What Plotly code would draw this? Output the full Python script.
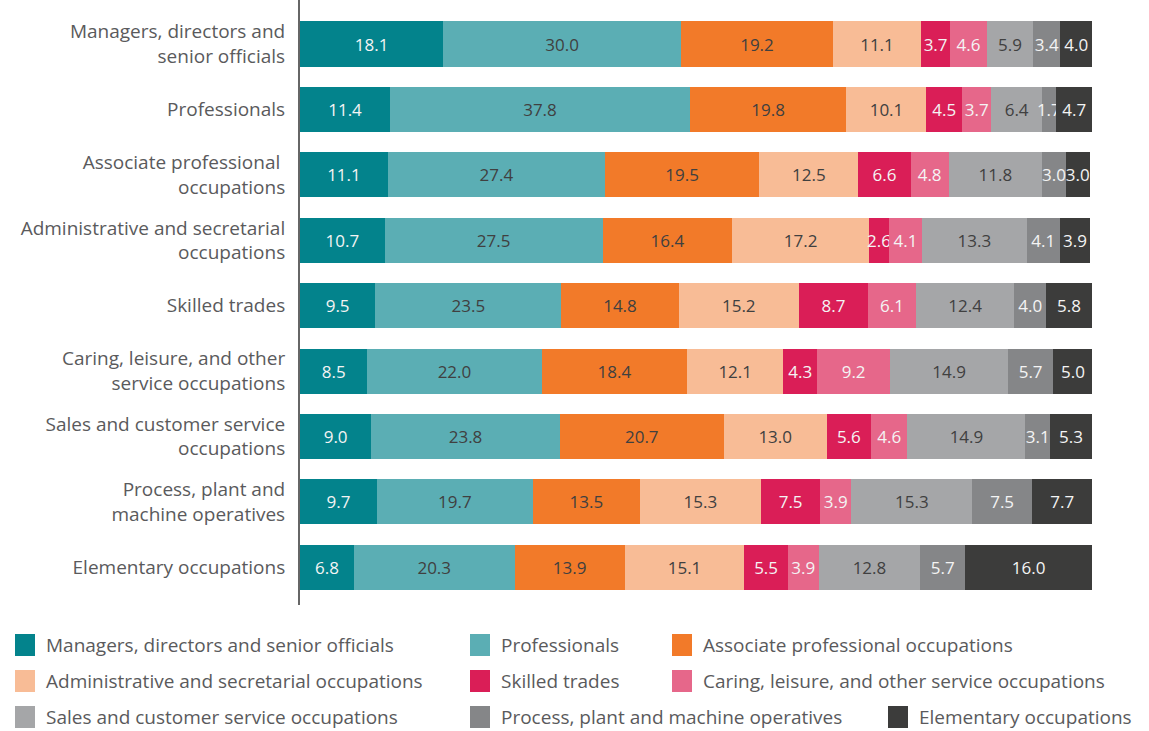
import plotly.graph_objects as go

categories = [
    "Managers, directors and senior officials",
    "Professionals",
    "Associate professional occupations",
    "Administrative and secretarial occupations",
    "Skilled trades",
    "Caring, leisure, and other service occupations",
    "Sales and customer service occupations",
    "Process, plant and machine operatives",
    "Elementary occupations",
]
category_ticktext = [
    "Managers, directors and<br>senior officials",
    "Professionals",
    "Associate professional <br>occupations",
    "Administrative and secretarial<br>occupations",
    "Skilled trades",
    "Caring, leisure, and other<br>service occupations",
    "Sales and customer service<br>occupations",
    "Process, plant and<br>machine operatives",
    "Elementary occupations",
]
series_names = categories[:]

managers = [18.1, 11.4, 11.1, 10.7, 9.5, 8.5, 9.0, 9.7, 6.8]
professionals = [30.0, 37.8, 27.4, 27.5, 23.5, 22.0, 23.8, 19.7, 20.3]
associate = [19.2, 19.8, 19.5, 16.4, 14.8, 18.4, 20.7, 13.5, 13.9]
administrative = [11.1, 10.1, 12.5, 17.2, 15.2, 12.1, 13.0, 15.3, 15.1]
skilled = [3.7, 4.5, 6.6, 2.6, 8.7, 4.3, 5.6, 7.5, 5.5]
caring = [4.6, 3.7, 4.8, 4.1, 6.1, 9.2, 4.6, 3.9, 3.9]
sales = [5.9, 6.4, 11.8, 13.3, 12.4, 14.9, 14.9, 15.3, 12.8]
process = [3.4, 1.7, 3.0, 4.1, 4.0, 5.7, 3.1, 7.5, 5.7]
elementary = [4.0, 4.7, 3.0, 3.9, 5.8, 5.0, 5.3, 7.7, 16.0]

series_values = [managers, professionals, associate, administrative, skilled,
                 caring, sales, process, elementary]
colors = ["#03838C", "#5BAEB4", "#F27A29", "#F8BC96", "#DA1E57",
          "#E6678A", "#A5A6A8", "#858688", "#3C3C3B"]
text_colors = ["#F4F4F4", "#404040", "#404040", "#404040", "#F4F4F4",
               "#F4F4F4", "#404040", "#F4F4F4", "#F4F4F4"]

FONT = "Open Sans"
GRAY = "#5A5A5C"

W, H = 1149, 731
L, R, T, B = 300, 57, 0, 126
PW, PH = W - L - R, H - T - B

fig = go.Figure()
for name, vals, col, tcol in zip(series_names, series_values, colors, text_colors):
    fig.add_trace(go.Bar(
        y=list(range(len(categories))), x=vals, name=name, orientation="h",
        marker=dict(color=col, line=dict(width=0)),
        text=[f"{v:.1f}" for v in vals], textposition="inside",
        insidetextanchor="middle", textangle=0, constraintext="none",
        textfont=dict(color=tcol, size=17, family=FONT),
        showlegend=False, hoverinfo="x+name",
    ))

def px_x(px):
    return (px - L) / PW

def px_y(py):
    return (T + PH - py) / PH

# manual legend laid out like the reference (3 rows)
legend_pos = [(15, 645), (470, 645), (672, 645),
              (15, 681), (470, 681), (672, 681),
              (15, 717), (470, 717), (888, 717)]
shapes = []
annotations = []
for (lx, ly), name, col in zip(legend_pos, series_names, colors):
    shapes.append(dict(type="rect", xref="paper", yref="paper",
                       x0=px_x(lx), x1=px_x(lx + 20), y0=px_y(ly + 11), y1=px_y(ly - 11),
                       fillcolor=col, line=dict(width=0)))
    annotations.append(dict(xref="paper", yref="paper", x=px_x(lx + 29), y=px_y(ly),
                            text=name, showarrow=False, xanchor="left", yanchor="middle",
                            font=dict(family=FONT, size=19, color=GRAY)))

fig.update_layout(
    width=W, height=H,
    margin=dict(l=L, r=R, t=T, b=B),
    barmode="stack", bargap=0.31,
    plot_bgcolor="white", paper_bgcolor="white",
    font=dict(family=FONT, color=GRAY),
    uniformtext=dict(minsize=17, mode="show"),
    shapes=shapes, annotations=annotations,
    xaxis=dict(range=[0, 100], showgrid=False, zeroline=False, showticklabels=False,
               showline=False, fixedrange=True),
    yaxis=dict(range=[8.576, -0.673], tickmode="array",
               tickvals=list(range(len(categories))), ticktext=category_ticktext,
               showgrid=False, zeroline=False, showline=True, linecolor="#666666",
               linewidth=2, ticks="outside", ticklen=9, tickcolor="rgba(0,0,0,0)",
               tickfont=dict(family=FONT, size=19, color=GRAY)),
)

fig.write_html("out.html", config={"displayModeBar": False},
               post_script="document.body.style.margin='0px';")
